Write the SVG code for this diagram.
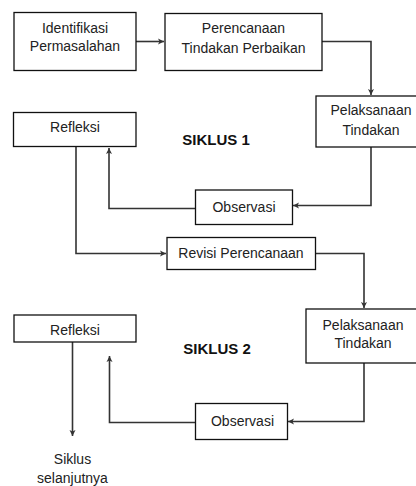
<svg xmlns="http://www.w3.org/2000/svg" width="416" height="486" viewBox="0 0 416 486">
<style>
.box{fill:#fff;stroke:#111;stroke-width:1.3}
.t{font-family:"Liberation Sans",Arial,sans-serif;font-size:14px;fill:#222;text-anchor:middle}
.h{font-family:"Liberation Sans",Arial,sans-serif;font-size:15px;font-weight:bold;fill:#111;text-anchor:middle}
.c{fill:none;stroke:#333;stroke-width:1.6}
</style>
<defs>
<marker id="ah" markerUnits="userSpaceOnUse" markerWidth="8" markerHeight="8" refX="6" refY="4" orient="auto">
<path d="M0,1 L6,4 L0,7 L1.5,4 Z" fill="#333"/>
</marker>
</defs>
<rect width="416" height="486" fill="#fff"/>
<g id="connectors">
<path class="c" d="M136,41.5 H164" marker-end="url(#ah)"/>
<path class="c" d="M322,41.5 H371 V95" marker-end="url(#ah)"/>
<path class="c" d="M371,147 V205.5 H293" marker-end="url(#ah)"/>
<path class="c" d="M195,208.5 H109 V148" marker-end="url(#ah)"/>
<path class="c" d="M76,147 V253.5 H166" marker-end="url(#ah)"/>
<path class="c" d="M315,253.5 H364 V308" marker-end="url(#ah)"/>
<path class="c" d="M364,363 V421.5 H288" marker-end="url(#ah)"/>
<path class="c" d="M195,422.5 H109.5 V356" marker-end="url(#ah)"/>
<path class="c" d="M72.5,342 V436" marker-end="url(#ah)"/>
</g>
<g id="identifikasi">
<rect class="box" x="14" y="12.5" width="122" height="58"/>
<text class="t" x="75" y="32.5">Identifikasi</text>
<text class="t" x="75" y="51">Permasalahan</text>
</g>
<g id="perencanaan">
<rect class="box" x="165" y="13.5" width="157" height="57"/>
<text class="t" x="243.5" y="33">Perencanaan</text>
<text class="t" x="243.5" y="52.5">Tindakan Perbaikan</text>
</g>
<g id="pelaksanaan1">
<rect class="box" x="316" y="96" width="110" height="51"/>
<text class="t" x="371" y="115">Pelaksanaan</text>
<text class="t" x="371" y="135">Tindakan</text>
</g>
<g id="refleksi1">
<rect class="box" x="13.5" y="112.5" width="122.5" height="34"/>
<text class="t" x="75" y="132">Refleksi</text>
</g>
<g id="siklus1">
<text class="h" x="216" y="145">SIKLUS 1</text>
</g>
<g id="observasi1">
<rect class="box" x="195.5" y="190" width="97" height="34.5"/>
<text class="t" x="244" y="212">Observasi</text>
</g>
<g id="revisi">
<rect class="box" x="167" y="237.5" width="148.5" height="32"/>
<text class="t" x="241" y="258">Revisi Perencanaan</text>
</g>
<g id="pelaksanaan2">
<rect class="box" x="306" y="309" width="120" height="54"/>
<text class="t" x="363" y="329.5">Pelaksanaan</text>
<text class="t" x="363" y="348">Tindakan</text>
</g>
<g id="refleksi2">
<rect class="box" x="14" y="315" width="122" height="27"/>
<text class="t" x="75" y="335">Refleksi</text>
</g>
<g id="siklus2">
<text class="h" x="217" y="353.5">SIKLUS 2</text>
</g>
<g id="observasi2">
<rect class="box" x="195.5" y="403.5" width="92" height="36"/>
<text class="t" x="242.5" y="425.5">Observasi</text>
</g>
<g id="siklus-selanjutnya">
<text class="t" x="72.5" y="463.5">Siklus</text>
<text class="t" x="72.5" y="483">selanjutnya</text>
</g>
</svg>
